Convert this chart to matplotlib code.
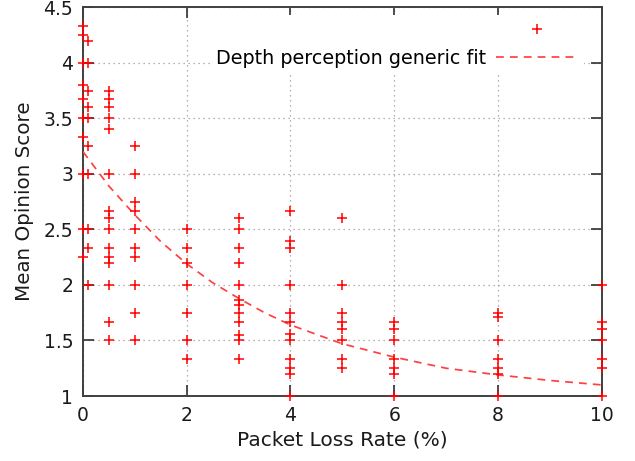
import matplotlib
matplotlib.use("Agg")
import matplotlib.pyplot as plt
from matplotlib.lines import Line2D

# ---- data ----
x_0 = [0.0] * 10
mos_0 = [4.33, 4.25, 4.0, 3.8, 3.67, 3.5, 3.33, 3.0, 2.5, 2.25]
x_01 = [0.1] * 10
mos_01 = [4.2, 4.0, 3.75, 3.6, 3.5, 3.25, 3.0, 2.5, 2.33, 2.0]
x_05 = [0.5] * 15
mos_05 = [3.75, 3.67, 3.6, 3.5, 3.4, 3.0, 2.67, 2.6, 2.5, 2.33, 2.25, 2.2, 2.0, 1.67, 1.5]
x_1 = [1.0] * 10
mos_1 = [3.25, 3.0, 2.75, 2.67, 2.5, 2.33, 2.25, 2.0, 1.75, 1.5]
x_2 = [2.0] * 7
mos_2 = [2.5, 2.33, 2.2, 2.0, 1.75, 1.5, 1.33]
x_3 = [3.0] * 12
mos_3 = [2.6, 2.5, 2.33, 2.2, 2.0, 1.86, 1.82, 1.75, 1.67, 1.55, 1.5, 1.33]
x_4 = [4.0] * 12
mos_4 = [2.67, 2.4, 2.33, 2.0, 1.75, 1.67, 1.56, 1.5, 1.33, 1.25, 1.2, 1.0]
x_5 = [5.0] * 8
mos_5 = [2.6, 2.0, 1.75, 1.67, 1.6, 1.5, 1.33, 1.25]
x_6 = [6.0] * 7
mos_6 = [1.67, 1.6, 1.5, 1.33, 1.25, 1.2, 1.0]
x_8 = [8.0] * 7
mos_8 = [1.75, 1.71, 1.5, 1.33, 1.25, 1.2, 1.0]
x_10 = [10.0] * 7
mos_10 = [2.0, 1.67, 1.6, 1.5, 1.33, 1.25, 1.0]

fit_x = [0, 0.5, 1, 1.5, 2, 2.5, 3, 3.5, 4, 5, 6, 7, 8, 9, 10]
fit_y = [3.20, 2.89, 2.63, 2.39, 2.19, 2.02, 1.88, 1.75, 1.64, 1.47, 1.35, 1.25, 1.19, 1.14, 1.10]

x_ticks = [0, 2, 4, 6, 8, 10]
y_ticks = [1, 1.5, 2, 2.5, 3, 3.5, 4, 4.5]
x_label = "Packet Loss Rate (%)"
y_label = "Mean Opinion Score"
fit_label = "Depth perception generic fit"

all_x = x_0 + x_01 + x_05 + x_1 + x_2 + x_3 + x_4 + x_5 + x_6 + x_8 + x_10
all_y = mos_0 + mos_01 + mos_05 + mos_1 + mos_2 + mos_3 + mos_4 + mos_5 + mos_6 + mos_8 + mos_10

plt.rcParams['font.family'] = ['DejaVu Sans']

fig = plt.figure(figsize=(6.35, 4.61), dpi=100)
ax = fig.add_axes([83 / 635, 1 - 396 / 461, (601.7 - 83) / 635, (396 - 7.3) / 461])

ax.set_xlim(0, 10)
ax.set_ylim(1, 4.5)
ax.set_xticks(x_ticks)
ax.set_yticks(y_ticks)
ax.set_xticklabels([str(t) for t in x_ticks])
ax.set_yticklabels([("%g" % t) for t in y_ticks])

ax.grid(True, linestyle=(0, (1, 3)), color='#9a9a9a', linewidth=0.9)
ax.set_axisbelow(True)

ax.tick_params(direction='in', length=8, width=1.2, colors='#303030',
               top=True, right=True, labelsize=13.5, labelcolor='#1a1a1a', pad=7)
for s in ax.spines.values():
    s.set_color('#404040')
    s.set_linewidth(1.4)

fit_style = dict(linestyle=(0, (4.5, 3.5)), color='#ff4040', linewidth=1.25)

pts, = ax.plot(all_x, all_y, linestyle='none', marker='+', color='#ff0000',
               markersize=7, markeredgewidth=1.1, clip_on=False, zorder=5)
fit, = ax.plot(fit_x, fit_y, zorder=4, **fit_style)

ax.set_xlabel(x_label, fontsize=14.5, color='#1a1a1a', labelpad=4)
ax.set_ylabel(y_label, fontsize=14.3, color='#1a1a1a', labelpad=7)

leg = ax.legend([Line2D([], [], linestyle='none', marker='+', color='#ff0000',
                        markersize=7, markeredgewidth=1.1),
                 Line2D([], [], **fit_style)],
                ['', fit_label], loc='upper right', bbox_to_anchor=(0.985, 1.006),
                markerfirst=False, frameon=True, fontsize=13.8, handlelength=4.3,
                handletextpad=0.5, labelspacing=0.5, borderpad=0.3, fancybox=False)
leg.get_frame().set_facecolor('white')
leg.get_frame().set_edgecolor('none')
leg.get_frame().set_alpha(1)
leg.set_zorder(6)

fig.savefig("out.png", dpi=100)
